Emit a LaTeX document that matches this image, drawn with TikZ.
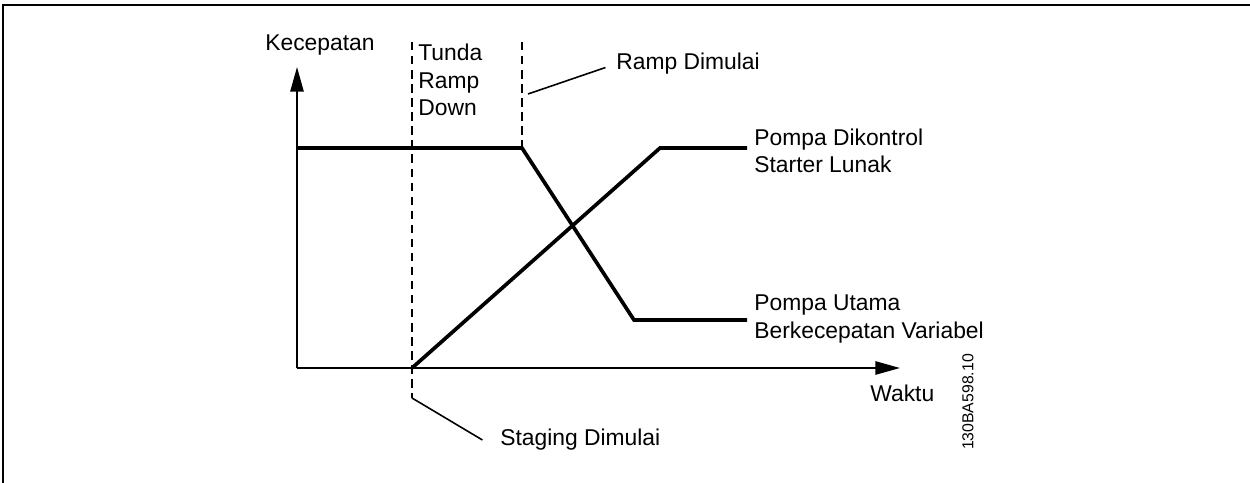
\documentclass[tikz,border=0pt]{standalone}
\usepackage{fontspec}
\setmainfont{Liberation Sans}
\usepackage{tikz}
\usetikzlibrary{arrows.meta, positioning}
\tikzstyle{lbl}=[anchor=west, align=left, inner sep=0pt, font=\fontsize{13}{15.6}\selectfont]
\tikzstyle{curve}=[line width=2.1pt, line join=miter]
\tikzstyle{axis}=[line width=1.2pt, -{Triangle[length=14pt, width=7.5pt]}]
\tikzstyle{marker}=[line width=1.3pt, dash pattern=on 4.8pt off 3.2pt]
\tikzstyle{leader}=[line width=0.9pt]

\begin{document}
\begin{tikzpicture}[x=0.02cm, y=-0.02cm]
	\useasboundingbox (0,0) rectangle (1250,483);
	\draw[line width=0.9pt] (3,483) -- (3,5) -- (1250,5);

	% axes
	\coordinate (O) at (297,368);
	\coordinate (ytip) at (297,67);
	\coordinate (xtip) at (900,368);
	\draw[axis] (O) -- (ytip);
	\draw[axis] (O) -- (xtip);
	\node[lbl] (speed) at (265,45) {Kecepatan};
	\node[lbl] (time) at (870,393) {Waktu};

	% staging and ramp markers
	\coordinate (stagetop) at (412,42);
	\coordinate (stagefoot) at (412,398);
	\coordinate (ramptop) at (522,42);
	\coordinate (rampknee) at (522,148);
	\draw[marker] (stagetop) -- (stagefoot);
	\draw[marker] (ramptop) -- (rampknee);
	\node[lbl] (delay) at (418,80) {Tunda\\Ramp\\Down};

	\node[lbl] (staging) at (500,440) {Staging Dimulai};
	\node[lbl] (ramp) at (616,64) {Ramp Dimulai};
	\coordinate (rampmark) at (528,94);
	\draw[leader] (stagefoot) -- ([xshift=-10]staging.west);
	\draw[leader] (rampmark) -- ([xshift=-6,yshift=-2]ramp.west);

	% pump speeds
	\coordinate (mainstart) at (297,148);
	\coordinate (mainlow) at (634,320);
	\coordinate (mainend) at (747,320);
	\coordinate (softtop) at (660,148);
	\coordinate (softend) at (747,148);
	\draw[curve] (mainstart) -- (rampknee) -- (mainlow) -- (mainend);
	\draw[curve] (stagefoot |- O) -- (softtop) -- (softend);
	\node[lbl] (soft) at (754,151) {Pompa Dikontrol\\Starter Lunak};
	\node[lbl] (main) at (754,319) {Pompa Utama\\Berkecepatan Variabel};

	\node[rotate=90, inner sep=0pt, font=\fontsize{9}{10}\selectfont] (code) at (968,402) {130BA598.10};
\end{tikzpicture}
\end{document}
